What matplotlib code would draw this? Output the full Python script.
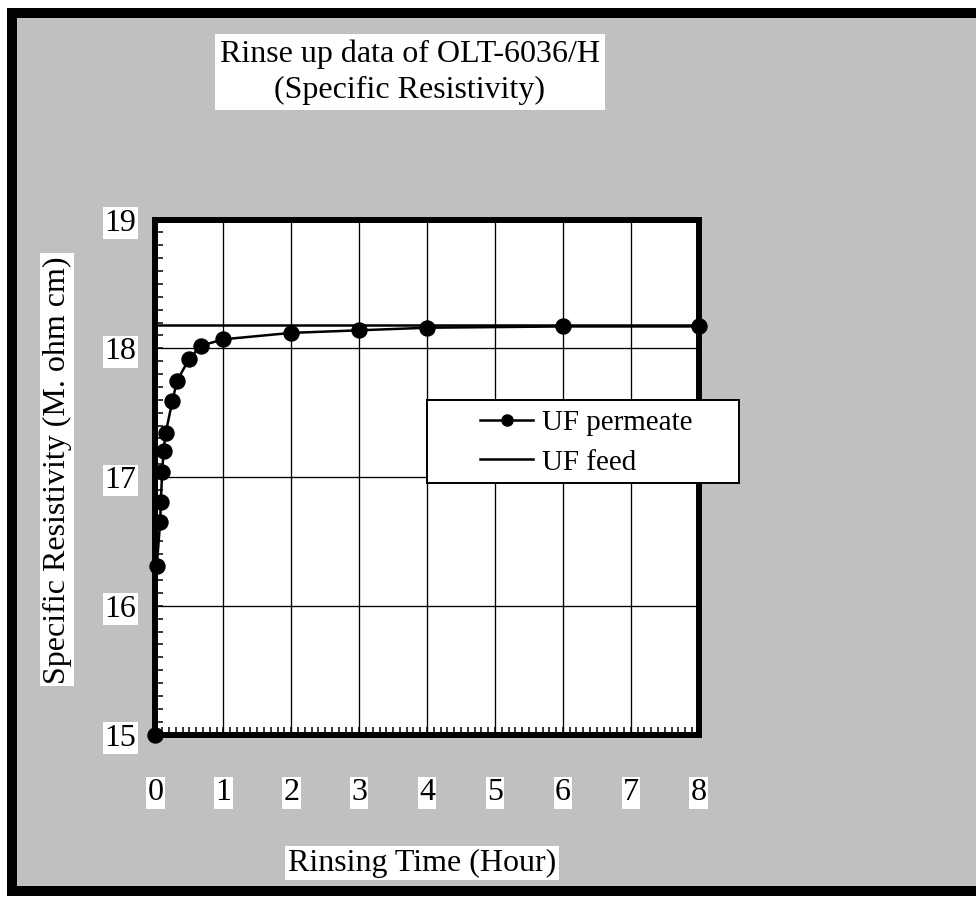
import matplotlib
matplotlib.use('Agg')
import matplotlib.pyplot as plt
from matplotlib.patches import Rectangle
from matplotlib.lines import Line2D
from matplotlib.ticker import MultipleLocator

plt.rcParams['font.family'] = ['Liberation Serif', 'DejaVu Serif']

# ---- data ----
time_h = [0, 0.02, 0.07, 0.08, 0.10, 0.12, 0.15, 0.25, 0.32, 0.50, 0.67, 1, 2, 3, 4, 6, 8]
permeate = [15.00, 16.31, 16.65, 16.81, 17.04, 17.20, 17.34, 17.59, 17.75, 17.92,
            18.02, 18.07, 18.12, 18.14, 18.16, 18.17, 18.17]
feed_time = [0, 8]
feed = [18.18, 18.18]
x_ticks = [0, 1, 2, 3, 4, 5, 6, 7, 8]
y_ticks = [15, 16, 17, 18, 19]
title = "Rinse up data of OLT-6036/H\n(Specific Resistivity)"
xlabel = "Rinsing Time (Hour)"
ylabel = "Specific Resistivity (M. ohm cm)"
series_labels = ["UF permeate", "UF feed"]

W, H = 976, 899
fig = plt.figure(figsize=(W / 100, H / 100), dpi=100, facecolor='white')

# gray panel with thick black frame
fig.add_artist(Rectangle((12 / W, 8 / H), 1100 / W, 878 / H, transform=fig.transFigure,
                         facecolor='#c0c0c0', edgecolor='black', linewidth=7.2, zorder=-10))

ax = fig.add_axes([155.4 / W, 164.5 / H, 543.3 / W, 514.9 / H])
ax.set_facecolor('white')

ax.plot(feed_time, feed, color='black', lw=1.8, zorder=3)
ax.plot(time_h, permeate, '-o', color='black', lw=1.8, ms=10.8, zorder=4, clip_on=False)

ax.set_xlim(0, 8)
ax.set_ylim(15, 19)
ax.set_xticks(x_ticks, [str(v) for v in x_ticks])
ax.set_yticks(y_ticks, [str(v) for v in y_ticks])
ax.xaxis.set_minor_locator(MultipleLocator(0.1))
ax.yaxis.set_minor_locator(MultipleLocator(0.1))
ax.grid(True, which='major', color='black', lw=0.95)

for s in ax.spines.values():
    s.set_linewidth(4.3)
    s.set_color('black')

ax.tick_params(which='both', direction='in', top=False, right=False,
               width=1.1, length=5.8, color='black')
ax.tick_params(axis='x', which='major', pad=31.5, labelsize=23)
ax.tick_params(axis='y', which='major', pad=13.7, labelsize=23)
for lbl in ax.get_xticklabels() + ax.get_yticklabels():
    lbl.set_bbox(dict(facecolor='white', edgecolor='none', pad=1))

ax.set_title(title, fontsize=23, pad=0, y=1.2867, x=0.4686, va='center', ha='center',
             linespacing=1.3,
             bbox=dict(facecolor='white', edgecolor='none', pad=4))

ax.set_xlabel(xlabel, fontsize=23, bbox=dict(facecolor='white', edgecolor='none', pad=2))
ax.xaxis.set_label_coords(0.491, -0.2496)
ax.xaxis.label.set_va('center')
ax.set_ylabel(ylabel, fontsize=23, bbox=dict(facecolor='white', edgecolor='none', pad=2))
ax.yaxis.set_label_coords(-0.181, 0.514)
ax.yaxis.label.set_va('center')

# legend
fig.add_artist(Rectangle((427 / W, 1 - 483 / H), 312 / W, 83 / H, transform=fig.transFigure,
                         facecolor='white', edgecolor='black', linewidth=1.4, zorder=4))
handles = [Line2D([], [], color='black', lw=1.8, marker='o', ms=8),
           Line2D([], [], color='black', lw=1.8)]
leg = fig.legend(handles, series_labels, loc='upper left', bbox_to_anchor=(480 / W, 1 - 410 / H),
                 frameon=False, borderpad=0, borderaxespad=0, handlelength=1.82,
                 handletextpad=0.3, labelspacing=0.44, fontsize=21)
leg.set_zorder(5)

fig.savefig('out.png', dpi=100, facecolor='white')
